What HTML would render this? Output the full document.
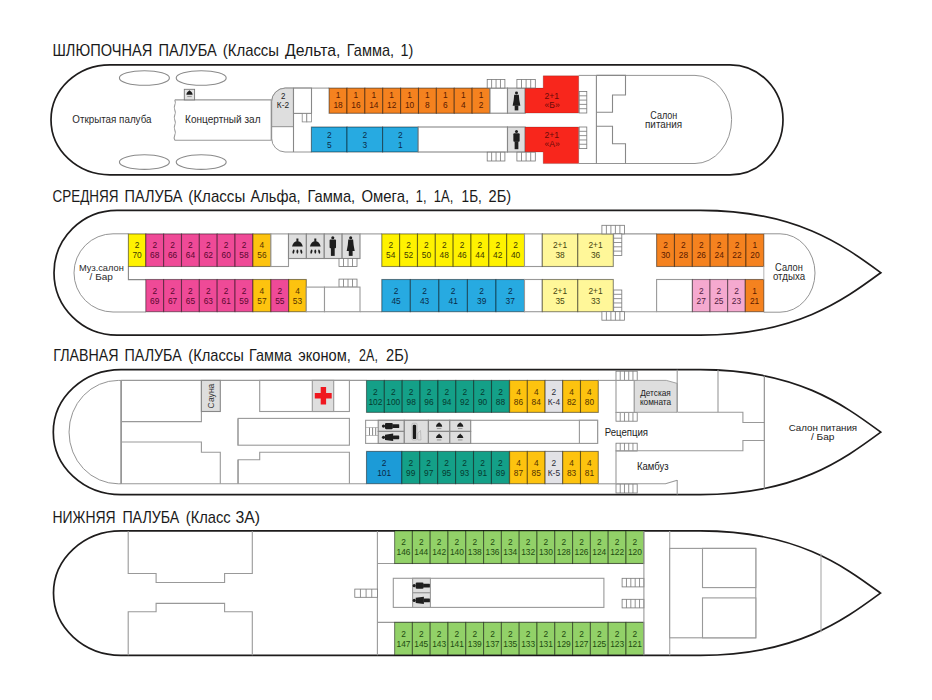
<!DOCTYPE html><html><head><meta charset="utf-8"><style>html,body{margin:0;padding:0;background:#fff;}svg{display:block;}text{font-family:"Liberation Sans", sans-serif;}</style></head><body>
<svg width="932" height="700" viewBox="0 0 932 700">
<rect width="932" height="700" fill="#fff"/>
<text transform="translate(52.50,56.20) scale(0.913,1)" font-size="16" fill="#1a1a1a" >ШЛЮПОЧНАЯ</text>
<text transform="translate(158.40,56.20) scale(0.912,1)" font-size="16" fill="#1a1a1a" >ПАЛУБА</text>
<text transform="translate(222.80,56.20) scale(0.932,1)" font-size="16" fill="#1a1a1a" >(Классы</text>
<text transform="translate(285.10,56.20) scale(0.986,1)" font-size="16" fill="#1a1a1a" >Дельта,</text>
<text transform="translate(346.80,56.20) scale(0.910,1)" font-size="16" fill="#1a1a1a" >Гамма,</text>
<text transform="translate(400.60,56.20) scale(0.900,1)" font-size="16" fill="#1a1a1a" >1)</text>
<text transform="translate(52.50,201.70) scale(0.843,1)" font-size="16" fill="#1a1a1a" >СРЕДНЯЯ</text>
<text transform="translate(124.60,201.70) scale(0.904,1)" font-size="16" fill="#1a1a1a" >ПАЛУБА</text>
<text transform="translate(188.30,201.70) scale(0.944,1)" font-size="16" fill="#1a1a1a" >(Классы</text>
<text transform="translate(250.60,201.70) scale(0.912,1)" font-size="16" fill="#1a1a1a" >Альфа,</text>
<text transform="translate(307.50,201.70) scale(0.917,1)" font-size="16" fill="#1a1a1a" >Гамма,</text>
<text transform="translate(361.40,201.70) scale(0.932,1)" font-size="16" fill="#1a1a1a" >Омега,</text>
<text transform="translate(415.80,201.70) scale(0.802,1)" font-size="16" fill="#1a1a1a" >1,</text>
<text transform="translate(433.80,201.70) scale(0.812,1)" font-size="16" fill="#1a1a1a" >1А,</text>
<text transform="translate(461.60,201.70) scale(0.852,1)" font-size="16" fill="#1a1a1a" >1Б,</text>
<text transform="translate(488.60,201.70) scale(0.914,1)" font-size="16" fill="#1a1a1a" >2Б)</text>
<text transform="translate(53.30,361.00) scale(0.890,1)" font-size="16" fill="#1a1a1a" >ГЛАВНАЯ</text>
<text transform="translate(124.60,361.00) scale(0.892,1)" font-size="16" fill="#1a1a1a" >ПАЛУБА</text>
<text transform="translate(188.30,361.00) scale(0.919,1)" font-size="16" fill="#1a1a1a" >(Классы</text>
<text transform="translate(249.10,361.00) scale(0.899,1)" font-size="16" fill="#1a1a1a" >Гамма</text>
<text transform="translate(298.30,361.00) scale(0.914,1)" font-size="16" fill="#1a1a1a" >эконом,</text>
<text transform="translate(359.10,361.00) scale(0.783,1)" font-size="16" fill="#1a1a1a" >2А,</text>
<text transform="translate(386.10,361.00) scale(0.914,1)" font-size="16" fill="#1a1a1a" >2Б)</text>
<text transform="translate(52.50,522.60) scale(0.870,1)" font-size="16" fill="#1a1a1a" >НИЖНЯЯ</text>
<text transform="translate(122.40,522.60) scale(0.890,1)" font-size="16" fill="#1a1a1a" >ПАЛУБА</text>
<text transform="translate(185.80,522.60) scale(0.919,1)" font-size="16" fill="#1a1a1a" >(Класс</text>
<text transform="translate(235.50,522.60) scale(0.988,1)" font-size="16" fill="#1a1a1a" >3А)</text>
<path d="M110,64.8 L730,64.8 A53,55.00000000000001 0 0 1 730,174.8 L110,174.8 A59,55.00000000000001 0 0 1 110,64.8 Z" fill="#fff" stroke="#1e1c1c" stroke-width="1.7"/>
<ellipse cx="144.4" cy="78" rx="25" ry="7.3" fill="none" stroke="#8a8a8a" stroke-width="1.1"/>
<ellipse cx="144.4" cy="162.1" rx="25" ry="7.3" fill="none" stroke="#8a8a8a" stroke-width="1.1"/>
<ellipse cx="201.2" cy="78" rx="25" ry="7.3" fill="none" stroke="#8a8a8a" stroke-width="1.1"/>
<ellipse cx="201.2" cy="162.1" rx="25" ry="7.3" fill="none" stroke="#8a8a8a" stroke-width="1.1"/>
<polyline points="174.80,99.90 271.20,99.90 271.20,140.30 174.80,140.30" fill="none" stroke="#999" stroke-width="1.1"/>
<path d="M174.8,99.9 q1.2,2.5 0,5 t0,5 t0,5 t0,5 t0,5 t0,5 t0,5 t0,5.4" fill="none" stroke="#999" stroke-width="1.1"/>
<rect x="184.30" y="89.30" width="10.30" height="10.60" fill="#e4e4e4" stroke="#777" stroke-width="0.9"/>
<g transform="translate(189.50,90.20) scale(1.25)" fill="#1e1e1e"><path d="M-2.5,3.6 C-2.4,2 -1.3,1.3 -0.6,0.7 L0,0 L0.6,0.7 C1.3,1.3 2.4,2 2.5,3.6 Z"/><rect x="-1.8" y="4.6" width="3.6" height="0.9" fill="#999"/></g>
<text transform="translate(72.30,122.70) scale(0.936,1)" font-size="10.5" fill="#2a2a2a" >Открытая палуба</text>
<text transform="translate(185.10,123.20) scale(0.959,1)" font-size="10.5" fill="#2a2a2a" >Концертный зал</text>
<path d="M285,88.1 L329.2,88.1 M311.5,152 L285,152 A13.5,13.5 0 0 1 271.7,138.5 L271.7,101.6 A13.5,13.5 0 0 1 285,88.1" fill="none" stroke="#888" stroke-width="0.9"/>
<path d="M285.2,88.1 L293.5,88.1 L293.5,126.7 L271.7,126.7 L271.7,101.6 A13.5,13.5 0 0 1 285.2,88.1 Z" fill="#DEDEDE" stroke="#888" stroke-width="0.9"/>
<line x1="293.50" y1="88.10" x2="293.50" y2="152.00" stroke="#888" stroke-width="1.1"/>
<rect x="293.50" y="88.10" width="18.00" height="25.30" fill="#fff" stroke="#888" stroke-width="1.1"/>
<rect x="302.20" y="113.50" width="4.60" height="8.40" fill="#fff" stroke="#888" stroke-width="0.8"/>
<rect x="306.80" y="113.50" width="4.60" height="8.40" fill="#fff" stroke="#888" stroke-width="0.8"/>
<text transform="translate(281.00,98.60) scale(0.860,1)" font-size="9.2" fill="#222" >2</text>
<text transform="translate(276.80,108.40) scale(0.901,1)" font-size="9.2" fill="#222" >К-2</text>
<rect x="329.10" y="88.10" width="17.88" height="25.20" fill="#F5821F" stroke="rgba(0,0,0,0.45)" stroke-width="1.1"/>
<text transform="translate(338.04,97.90) scale(0.88,1)" font-size="9.5" fill="#5a1a00" text-anchor="middle" >1</text>
<text transform="translate(338.04,107.90) scale(0.88,1)" font-size="9.5" fill="#5a1a00" text-anchor="middle" >18</text>
<rect x="346.98" y="88.10" width="17.88" height="25.20" fill="#F5821F" stroke="rgba(0,0,0,0.45)" stroke-width="1.1"/>
<text transform="translate(355.92,97.90) scale(0.88,1)" font-size="9.5" fill="#5a1a00" text-anchor="middle" >1</text>
<text transform="translate(355.92,107.90) scale(0.88,1)" font-size="9.5" fill="#5a1a00" text-anchor="middle" >16</text>
<rect x="364.86" y="88.10" width="17.88" height="25.20" fill="#F5821F" stroke="rgba(0,0,0,0.45)" stroke-width="1.1"/>
<text transform="translate(373.80,97.90) scale(0.88,1)" font-size="9.5" fill="#5a1a00" text-anchor="middle" >1</text>
<text transform="translate(373.80,107.90) scale(0.88,1)" font-size="9.5" fill="#5a1a00" text-anchor="middle" >14</text>
<rect x="382.74" y="88.10" width="17.88" height="25.20" fill="#F5821F" stroke="rgba(0,0,0,0.45)" stroke-width="1.1"/>
<text transform="translate(391.68,97.90) scale(0.88,1)" font-size="9.5" fill="#5a1a00" text-anchor="middle" >1</text>
<text transform="translate(391.68,107.90) scale(0.88,1)" font-size="9.5" fill="#5a1a00" text-anchor="middle" >12</text>
<rect x="400.62" y="88.10" width="17.88" height="25.20" fill="#F5821F" stroke="rgba(0,0,0,0.45)" stroke-width="1.1"/>
<text transform="translate(409.56,97.90) scale(0.88,1)" font-size="9.5" fill="#5a1a00" text-anchor="middle" >1</text>
<text transform="translate(409.56,107.90) scale(0.88,1)" font-size="9.5" fill="#5a1a00" text-anchor="middle" >10</text>
<rect x="418.50" y="88.10" width="17.88" height="25.20" fill="#F5821F" stroke="rgba(0,0,0,0.45)" stroke-width="1.1"/>
<text transform="translate(427.44,97.90) scale(0.88,1)" font-size="9.5" fill="#5a1a00" text-anchor="middle" >1</text>
<text transform="translate(427.44,107.90) scale(0.88,1)" font-size="9.5" fill="#5a1a00" text-anchor="middle" >8</text>
<rect x="436.38" y="88.10" width="17.88" height="25.20" fill="#F5821F" stroke="rgba(0,0,0,0.45)" stroke-width="1.1"/>
<text transform="translate(445.32,97.90) scale(0.88,1)" font-size="9.5" fill="#5a1a00" text-anchor="middle" >1</text>
<text transform="translate(445.32,107.90) scale(0.88,1)" font-size="9.5" fill="#5a1a00" text-anchor="middle" >6</text>
<rect x="454.26" y="88.10" width="17.88" height="25.20" fill="#F5821F" stroke="rgba(0,0,0,0.45)" stroke-width="1.1"/>
<text transform="translate(463.20,97.90) scale(0.88,1)" font-size="9.5" fill="#5a1a00" text-anchor="middle" >1</text>
<text transform="translate(463.20,107.90) scale(0.88,1)" font-size="9.5" fill="#5a1a00" text-anchor="middle" >4</text>
<rect x="472.14" y="88.10" width="17.88" height="25.20" fill="#F5821F" stroke="rgba(0,0,0,0.45)" stroke-width="1.1"/>
<text transform="translate(481.08,97.90) scale(0.88,1)" font-size="9.5" fill="#5a1a00" text-anchor="middle" >1</text>
<text transform="translate(481.08,107.90) scale(0.88,1)" font-size="9.5" fill="#5a1a00" text-anchor="middle" >2</text>
<rect x="311.40" y="127.00" width="35.60" height="25.00" fill="#27AAE1" stroke="rgba(0,0,0,0.45)" stroke-width="1.1"/>
<text transform="translate(329.20,137.60) scale(0.88,1)" font-size="9.5" fill="#0a2a48" text-anchor="middle" >2</text>
<text transform="translate(329.20,147.70) scale(0.88,1)" font-size="9.5" fill="#0a2a48" text-anchor="middle" >5</text>
<rect x="347.00" y="127.00" width="35.60" height="25.00" fill="#27AAE1" stroke="rgba(0,0,0,0.45)" stroke-width="1.1"/>
<text transform="translate(364.80,137.60) scale(0.88,1)" font-size="9.5" fill="#0a2a48" text-anchor="middle" >2</text>
<text transform="translate(364.80,147.70) scale(0.88,1)" font-size="9.5" fill="#0a2a48" text-anchor="middle" >3</text>
<rect x="382.60" y="127.00" width="35.60" height="25.00" fill="#27AAE1" stroke="rgba(0,0,0,0.45)" stroke-width="1.1"/>
<text transform="translate(400.40,137.60) scale(0.88,1)" font-size="9.5" fill="#0a2a48" text-anchor="middle" >2</text>
<text transform="translate(400.40,147.70) scale(0.88,1)" font-size="9.5" fill="#0a2a48" text-anchor="middle" >1</text>
<rect x="490.00" y="88.10" width="17.50" height="25.10" fill="#fff" stroke="#888" stroke-width="1.1"/>
<rect x="507.50" y="88.10" width="17.60" height="25.10" fill="#DEDEDE" stroke="#888" stroke-width="1.1"/>
<g transform="translate(516.50,91.60) scale(0.964)" fill="#1e1e1e"><circle cx="0" cy="1.5" r="1.55"/><path d="M-2.4,3.3 H2.4 L2.9,8.6 L4,14.6 H-4 L-2.9,8.6 Z"/><rect x="-1.9" y="14.4" width="3.8" height="5.1"/></g>
<rect x="418.20" y="127.00" width="89.30" height="25.00" fill="#fff" stroke="#888" stroke-width="1.1"/>
<rect x="507.50" y="127.00" width="17.60" height="25.00" fill="#DEDEDE" stroke="#888" stroke-width="1.1"/>
<g transform="translate(516.50,130.00) scale(0.985)" fill="#1e1e1e"><circle cx="0" cy="1.5" r="1.55"/><rect x="-3.2" y="3.3" width="6.4" height="8.6" rx="0.9"/><rect x="-1.9" y="11.5" width="3.8" height="8"/></g>
<path d="M525.1,88.1 L543.2,88.1 L543.2,75.8 L578.7,75.8 L578.7,113.1 L525.1,113.1 Z" fill="#F8261C" stroke="rgba(0,0,0,0.3)" stroke-width="0.6"/>
<path d="M525.1,127 L578.7,127 L578.7,163.6 L543.2,163.6 L543.2,152 L525.1,152 Z" fill="#F8261C" stroke="rgba(0,0,0,0.3)" stroke-width="0.6"/>
<text transform="translate(544.50,98.70) scale(0.912,1)" font-size="9.5" fill="#6a0a08" >2+1</text>
<text transform="translate(544.50,108.20) scale(0.910,1)" font-size="9.5" fill="#6a0a08" >«Б»</text>
<text transform="translate(544.50,137.70) scale(0.912,1)" font-size="9.5" fill="#6a0a08" >2+1</text>
<text transform="translate(544.50,147.40) scale(0.905,1)" font-size="9.5" fill="#6a0a08" >«А»</text>
<rect x="487.20" y="79.40" width="17.70" height="8.60" fill="#fff" stroke="#777" stroke-width="0.8"/>
<line x1="491.62" y1="79.40" x2="491.62" y2="88.00" stroke="#777" stroke-width="0.8"/>
<line x1="496.05" y1="79.40" x2="496.05" y2="88.00" stroke="#777" stroke-width="0.8"/>
<line x1="500.47" y1="79.40" x2="500.47" y2="88.00" stroke="#777" stroke-width="0.8"/>
<rect x="516.90" y="79.40" width="18.40" height="8.60" fill="#fff" stroke="#777" stroke-width="0.8"/>
<line x1="521.50" y1="79.40" x2="521.50" y2="88.00" stroke="#777" stroke-width="0.8"/>
<line x1="526.10" y1="79.40" x2="526.10" y2="88.00" stroke="#777" stroke-width="0.8"/>
<line x1="530.70" y1="79.40" x2="530.70" y2="88.00" stroke="#777" stroke-width="0.8"/>
<rect x="487.20" y="152.20" width="17.70" height="8.80" fill="#fff" stroke="#777" stroke-width="0.8"/>
<line x1="491.62" y1="152.20" x2="491.62" y2="161.00" stroke="#777" stroke-width="0.8"/>
<line x1="496.05" y1="152.20" x2="496.05" y2="161.00" stroke="#777" stroke-width="0.8"/>
<line x1="500.47" y1="152.20" x2="500.47" y2="161.00" stroke="#777" stroke-width="0.8"/>
<rect x="516.90" y="152.20" width="18.40" height="8.80" fill="#fff" stroke="#777" stroke-width="0.8"/>
<line x1="521.50" y1="152.20" x2="521.50" y2="161.00" stroke="#777" stroke-width="0.8"/>
<line x1="526.10" y1="152.20" x2="526.10" y2="161.00" stroke="#777" stroke-width="0.8"/>
<line x1="530.70" y1="152.20" x2="530.70" y2="161.00" stroke="#777" stroke-width="0.8"/>
<rect x="579.20" y="91.50" width="7.60" height="21.50" fill="#fff" stroke="#777" stroke-width="0.8"/>
<line x1="579.20" y1="95.80" x2="586.80" y2="95.80" stroke="#777" stroke-width="0.8"/>
<line x1="579.20" y1="100.10" x2="586.80" y2="100.10" stroke="#777" stroke-width="0.8"/>
<line x1="579.20" y1="104.40" x2="586.80" y2="104.40" stroke="#777" stroke-width="0.8"/>
<line x1="579.20" y1="108.70" x2="586.80" y2="108.70" stroke="#777" stroke-width="0.8"/>
<rect x="579.20" y="127.00" width="7.60" height="21.60" fill="#fff" stroke="#777" stroke-width="0.8"/>
<line x1="579.20" y1="131.32" x2="586.80" y2="131.32" stroke="#777" stroke-width="0.8"/>
<line x1="579.20" y1="135.64" x2="586.80" y2="135.64" stroke="#777" stroke-width="0.8"/>
<line x1="579.20" y1="139.96" x2="586.80" y2="139.96" stroke="#777" stroke-width="0.8"/>
<line x1="579.20" y1="144.28" x2="586.80" y2="144.28" stroke="#777" stroke-width="0.8"/>
<path d="M578.7,75.4 L695,75.4 A36.6,44 0 0 1 695,163.5 L578.7,163.5" fill="none" stroke="#888" stroke-width="0.9"/>
<line x1="596.40" y1="75.40" x2="596.40" y2="163.50" stroke="#888" stroke-width="1.1"/>
<polyline points="596.40,75.40 625.50,75.40 625.50,95.00 612.50,95.00 612.50,112.30 596.40,112.30" fill="none" stroke="#888" stroke-width="1.1"/>
<polyline points="596.40,126.30 612.50,126.30 612.50,143.80 625.50,143.80 625.50,163.50" fill="none" stroke="#888" stroke-width="1.1"/>
<text transform="translate(650.30,118.90) scale(0.902,1)" font-size="10" fill="#2a2a2a" >Салон</text>
<text transform="translate(645.00,127.90) scale(0.991,1)" font-size="10" fill="#2a2a2a" >питания</text>
<path d="M117,210.3 L700.4,210.3 C796.6,210.3 843.8,245.60000000000002 880.8,272.70000000000005 C843.8,299.8 796.6,335.1 700.4,335.1 L117,335.1 A63,62.400000000000006 0 0 1 117,210.3 Z" fill="#fff" stroke="#1e1c1c" stroke-width="1.7"/>
<path d="M128.4,233.8 L113,233.8 A39,39.1 0 0 0 113,312 L145.8,312" fill="none" stroke="#888" stroke-width="0.9"/>
<polyline points="128.40,266.60 128.40,279.60 145.80,279.60" fill="none" stroke="#888" stroke-width="1.1"/>
<text transform="translate(79.00,270.60) scale(0.945,1)" font-size="9.8" fill="#2a2a2a" >Муз.салон</text>
<text transform="translate(89.60,279.90) scale(1.019,1)" font-size="9.8" fill="#2a2a2a" >/ Бар</text>
<rect x="128.40" y="233.90" width="17.40" height="32.60" fill="#FFF200" stroke="rgba(0,0,0,0.45)" stroke-width="1.1"/>
<text transform="translate(137.10,248.30) scale(0.88,1)" font-size="9.5" fill="#403a00" text-anchor="middle" >2</text>
<text transform="translate(137.10,258.00) scale(0.88,1)" font-size="9.5" fill="#403a00" text-anchor="middle" >70</text>
<rect x="145.80" y="233.90" width="17.85" height="32.60" fill="#EF4A97" stroke="rgba(0,0,0,0.45)" stroke-width="1.1"/>
<text transform="translate(154.73,248.30) scale(0.88,1)" font-size="9.5" fill="#5a0830" text-anchor="middle" >2</text>
<text transform="translate(154.73,258.00) scale(0.88,1)" font-size="9.5" fill="#5a0830" text-anchor="middle" >68</text>
<rect x="163.65" y="233.90" width="17.85" height="32.60" fill="#EF4A97" stroke="rgba(0,0,0,0.45)" stroke-width="1.1"/>
<text transform="translate(172.58,248.30) scale(0.88,1)" font-size="9.5" fill="#5a0830" text-anchor="middle" >2</text>
<text transform="translate(172.58,258.00) scale(0.88,1)" font-size="9.5" fill="#5a0830" text-anchor="middle" >66</text>
<rect x="181.50" y="233.90" width="17.85" height="32.60" fill="#EF4A97" stroke="rgba(0,0,0,0.45)" stroke-width="1.1"/>
<text transform="translate(190.43,248.30) scale(0.88,1)" font-size="9.5" fill="#5a0830" text-anchor="middle" >2</text>
<text transform="translate(190.43,258.00) scale(0.88,1)" font-size="9.5" fill="#5a0830" text-anchor="middle" >64</text>
<rect x="199.35" y="233.90" width="17.85" height="32.60" fill="#EF4A97" stroke="rgba(0,0,0,0.45)" stroke-width="1.1"/>
<text transform="translate(208.28,248.30) scale(0.88,1)" font-size="9.5" fill="#5a0830" text-anchor="middle" >2</text>
<text transform="translate(208.28,258.00) scale(0.88,1)" font-size="9.5" fill="#5a0830" text-anchor="middle" >62</text>
<rect x="217.20" y="233.90" width="17.85" height="32.60" fill="#EF4A97" stroke="rgba(0,0,0,0.45)" stroke-width="1.1"/>
<text transform="translate(226.13,248.30) scale(0.88,1)" font-size="9.5" fill="#5a0830" text-anchor="middle" >2</text>
<text transform="translate(226.13,258.00) scale(0.88,1)" font-size="9.5" fill="#5a0830" text-anchor="middle" >60</text>
<rect x="235.05" y="233.90" width="17.85" height="32.60" fill="#EF4A97" stroke="rgba(0,0,0,0.45)" stroke-width="1.1"/>
<text transform="translate(243.98,248.30) scale(0.88,1)" font-size="9.5" fill="#5a0830" text-anchor="middle" >2</text>
<text transform="translate(243.98,258.00) scale(0.88,1)" font-size="9.5" fill="#5a0830" text-anchor="middle" >58</text>
<rect x="252.90" y="233.90" width="18.00" height="32.60" fill="#FDC30F" stroke="rgba(0,0,0,0.45)" stroke-width="1.1"/>
<text transform="translate(261.90,248.30) scale(0.88,1)" font-size="9.5" fill="#553300" text-anchor="middle" >4</text>
<text transform="translate(261.90,258.00) scale(0.88,1)" font-size="9.5" fill="#553300" text-anchor="middle" >56</text>
<rect x="270.90" y="233.90" width="17.60" height="32.60" fill="#fff" stroke="#999" stroke-width="1.1"/>
<rect x="288.50" y="233.90" width="17.88" height="24.60" fill="#DEDEDE" stroke="#888" stroke-width="1.1"/>
<rect x="306.38" y="233.90" width="17.88" height="24.60" fill="#DEDEDE" stroke="#888" stroke-width="1.1"/>
<rect x="324.25" y="233.90" width="17.88" height="24.60" fill="#DEDEDE" stroke="#888" stroke-width="1.1"/>
<rect x="342.12" y="233.90" width="17.88" height="24.60" fill="#DEDEDE" stroke="#888" stroke-width="1.1"/>
<g transform="translate(297.40,238.50)" fill="#1e1e1e"><rect x="-1" y="0" width="2" height="3"/><path d="M-5.4,8.1 C-4.6,4.6 -2.6,2.4 0,2.4 C2.6,2.4 4.6,4.6 5.4,8.1 Z"/><ellipse cx="-3.9" cy="13.1" rx="0.95" ry="2.1" transform="rotate(12 -3.9 13.1)"/><ellipse cx="0" cy="13.1" rx="0.95" ry="2.1"/><ellipse cx="3.9" cy="13.1" rx="0.95" ry="2.1" transform="rotate(-12 3.9 13.1)"/></g>
<g transform="translate(315.30,238.50)" fill="#1e1e1e"><rect x="-1" y="0" width="2" height="3"/><path d="M-5.4,8.1 C-4.6,4.6 -2.6,2.4 0,2.4 C2.6,2.4 4.6,4.6 5.4,8.1 Z"/><ellipse cx="-3.9" cy="13.1" rx="0.95" ry="2.1" transform="rotate(12 -3.9 13.1)"/><ellipse cx="0" cy="13.1" rx="0.95" ry="2.1"/><ellipse cx="3.9" cy="13.1" rx="0.95" ry="2.1" transform="rotate(-12 3.9 13.1)"/></g>
<g transform="translate(332.80,236.30) scale(1.005)" fill="#1e1e1e"><circle cx="0" cy="1.5" r="1.55"/><rect x="-3.2" y="3.3" width="6.4" height="8.6" rx="0.9"/><rect x="-1.9" y="11.5" width="3.8" height="8"/></g>
<g transform="translate(350.70,236.30) scale(1.005)" fill="#1e1e1e"><circle cx="0" cy="1.5" r="1.55"/><path d="M-2.4,3.3 H2.4 L2.9,8.6 L4,14.6 H-4 L-2.9,8.6 Z"/><rect x="-1.9" y="14.4" width="3.8" height="5.1"/></g>
<rect x="339.00" y="258.50" width="18.00" height="8.00" fill="#fff" stroke="#777" stroke-width="0.8"/>
<line x1="343.50" y1="258.50" x2="343.50" y2="266.50" stroke="#777" stroke-width="0.8"/>
<line x1="348.00" y1="258.50" x2="348.00" y2="266.50" stroke="#777" stroke-width="0.8"/>
<line x1="352.50" y1="258.50" x2="352.50" y2="266.50" stroke="#777" stroke-width="0.8"/>
<rect x="339.00" y="279.10" width="18.00" height="8.00" fill="#fff" stroke="#777" stroke-width="0.8"/>
<line x1="343.50" y1="279.10" x2="343.50" y2="287.10" stroke="#777" stroke-width="0.8"/>
<line x1="348.00" y1="279.10" x2="348.00" y2="287.10" stroke="#777" stroke-width="0.8"/>
<line x1="352.50" y1="279.10" x2="352.50" y2="287.10" stroke="#777" stroke-width="0.8"/>
<line x1="360.00" y1="233.90" x2="381.80" y2="233.90" stroke="#999" stroke-width="1.1"/>
<rect x="145.80" y="279.50" width="17.85" height="32.20" fill="#EF4A97" stroke="rgba(0,0,0,0.45)" stroke-width="1.1"/>
<text transform="translate(154.73,293.90) scale(0.88,1)" font-size="9.5" fill="#5a0830" text-anchor="middle" >2</text>
<text transform="translate(154.73,303.60) scale(0.88,1)" font-size="9.5" fill="#5a0830" text-anchor="middle" >69</text>
<rect x="163.65" y="279.50" width="17.85" height="32.20" fill="#EF4A97" stroke="rgba(0,0,0,0.45)" stroke-width="1.1"/>
<text transform="translate(172.58,293.90) scale(0.88,1)" font-size="9.5" fill="#5a0830" text-anchor="middle" >2</text>
<text transform="translate(172.58,303.60) scale(0.88,1)" font-size="9.5" fill="#5a0830" text-anchor="middle" >67</text>
<rect x="181.50" y="279.50" width="17.85" height="32.20" fill="#EF4A97" stroke="rgba(0,0,0,0.45)" stroke-width="1.1"/>
<text transform="translate(190.43,293.90) scale(0.88,1)" font-size="9.5" fill="#5a0830" text-anchor="middle" >2</text>
<text transform="translate(190.43,303.60) scale(0.88,1)" font-size="9.5" fill="#5a0830" text-anchor="middle" >65</text>
<rect x="199.35" y="279.50" width="17.85" height="32.20" fill="#EF4A97" stroke="rgba(0,0,0,0.45)" stroke-width="1.1"/>
<text transform="translate(208.28,293.90) scale(0.88,1)" font-size="9.5" fill="#5a0830" text-anchor="middle" >2</text>
<text transform="translate(208.28,303.60) scale(0.88,1)" font-size="9.5" fill="#5a0830" text-anchor="middle" >63</text>
<rect x="217.20" y="279.50" width="17.85" height="32.20" fill="#EF4A97" stroke="rgba(0,0,0,0.45)" stroke-width="1.1"/>
<text transform="translate(226.13,293.90) scale(0.88,1)" font-size="9.5" fill="#5a0830" text-anchor="middle" >2</text>
<text transform="translate(226.13,303.60) scale(0.88,1)" font-size="9.5" fill="#5a0830" text-anchor="middle" >61</text>
<rect x="235.05" y="279.50" width="17.85" height="32.20" fill="#EF4A97" stroke="rgba(0,0,0,0.45)" stroke-width="1.1"/>
<text transform="translate(243.98,293.90) scale(0.88,1)" font-size="9.5" fill="#5a0830" text-anchor="middle" >2</text>
<text transform="translate(243.98,303.60) scale(0.88,1)" font-size="9.5" fill="#5a0830" text-anchor="middle" >59</text>
<rect x="252.90" y="279.50" width="18.00" height="32.20" fill="#FDC30F" stroke="rgba(0,0,0,0.45)" stroke-width="1.1"/>
<text transform="translate(261.90,293.90) scale(0.88,1)" font-size="9.5" fill="#553300" text-anchor="middle" >4</text>
<text transform="translate(261.90,303.60) scale(0.88,1)" font-size="9.5" fill="#553300" text-anchor="middle" >57</text>
<rect x="270.90" y="279.50" width="17.80" height="32.20" fill="#EF4A97" stroke="rgba(0,0,0,0.45)" stroke-width="1.1"/>
<text transform="translate(279.80,293.90) scale(0.88,1)" font-size="9.5" fill="#5a0830" text-anchor="middle" >2</text>
<text transform="translate(279.80,303.60) scale(0.88,1)" font-size="9.5" fill="#5a0830" text-anchor="middle" >55</text>
<rect x="288.70" y="279.50" width="17.60" height="32.20" fill="#FDC30F" stroke="rgba(0,0,0,0.45)" stroke-width="1.1"/>
<text transform="translate(297.50,293.90) scale(0.88,1)" font-size="9.5" fill="#553300" text-anchor="middle" >4</text>
<text transform="translate(297.50,303.60) scale(0.88,1)" font-size="9.5" fill="#553300" text-anchor="middle" >53</text>
<rect x="306.30" y="287.10" width="18.20" height="24.60" fill="#fff" stroke="#999" stroke-width="1.1"/>
<rect x="324.50" y="287.10" width="35.50" height="24.60" fill="#fff" stroke="#999" stroke-width="1.1"/>
<line x1="360.00" y1="311.70" x2="381.80" y2="311.70" stroke="#999" stroke-width="1.1"/>
<rect x="381.80" y="233.90" width="17.84" height="32.60" fill="#FFF200" stroke="rgba(0,0,0,0.45)" stroke-width="1.1"/>
<text transform="translate(390.72,248.30) scale(0.88,1)" font-size="9.5" fill="#403a00" text-anchor="middle" >2</text>
<text transform="translate(390.72,258.00) scale(0.88,1)" font-size="9.5" fill="#403a00" text-anchor="middle" >54</text>
<rect x="399.64" y="233.90" width="17.84" height="32.60" fill="#FFF200" stroke="rgba(0,0,0,0.45)" stroke-width="1.1"/>
<text transform="translate(408.56,248.30) scale(0.88,1)" font-size="9.5" fill="#403a00" text-anchor="middle" >2</text>
<text transform="translate(408.56,258.00) scale(0.88,1)" font-size="9.5" fill="#403a00" text-anchor="middle" >52</text>
<rect x="417.48" y="233.90" width="17.84" height="32.60" fill="#FFF200" stroke="rgba(0,0,0,0.45)" stroke-width="1.1"/>
<text transform="translate(426.40,248.30) scale(0.88,1)" font-size="9.5" fill="#403a00" text-anchor="middle" >2</text>
<text transform="translate(426.40,258.00) scale(0.88,1)" font-size="9.5" fill="#403a00" text-anchor="middle" >50</text>
<rect x="435.32" y="233.90" width="17.84" height="32.60" fill="#FFF200" stroke="rgba(0,0,0,0.45)" stroke-width="1.1"/>
<text transform="translate(444.24,248.30) scale(0.88,1)" font-size="9.5" fill="#403a00" text-anchor="middle" >2</text>
<text transform="translate(444.24,258.00) scale(0.88,1)" font-size="9.5" fill="#403a00" text-anchor="middle" >48</text>
<rect x="453.16" y="233.90" width="17.84" height="32.60" fill="#FFF200" stroke="rgba(0,0,0,0.45)" stroke-width="1.1"/>
<text transform="translate(462.08,248.30) scale(0.88,1)" font-size="9.5" fill="#403a00" text-anchor="middle" >2</text>
<text transform="translate(462.08,258.00) scale(0.88,1)" font-size="9.5" fill="#403a00" text-anchor="middle" >46</text>
<rect x="471.00" y="233.90" width="17.84" height="32.60" fill="#FFF200" stroke="rgba(0,0,0,0.45)" stroke-width="1.1"/>
<text transform="translate(479.92,248.30) scale(0.88,1)" font-size="9.5" fill="#403a00" text-anchor="middle" >2</text>
<text transform="translate(479.92,258.00) scale(0.88,1)" font-size="9.5" fill="#403a00" text-anchor="middle" >44</text>
<rect x="488.84" y="233.90" width="17.84" height="32.60" fill="#FFF200" stroke="rgba(0,0,0,0.45)" stroke-width="1.1"/>
<text transform="translate(497.76,248.30) scale(0.88,1)" font-size="9.5" fill="#403a00" text-anchor="middle" >2</text>
<text transform="translate(497.76,258.00) scale(0.88,1)" font-size="9.5" fill="#403a00" text-anchor="middle" >42</text>
<rect x="506.68" y="233.90" width="17.84" height="32.60" fill="#FFF200" stroke="rgba(0,0,0,0.45)" stroke-width="1.1"/>
<text transform="translate(515.60,248.30) scale(0.88,1)" font-size="9.5" fill="#403a00" text-anchor="middle" >2</text>
<text transform="translate(515.60,258.00) scale(0.88,1)" font-size="9.5" fill="#403a00" text-anchor="middle" >40</text>
<rect x="381.80" y="279.50" width="28.54" height="32.20" fill="#27AAE1" stroke="rgba(0,0,0,0.45)" stroke-width="1.1"/>
<text transform="translate(396.07,293.90) scale(0.88,1)" font-size="9.5" fill="#0a2a48" text-anchor="middle" >2</text>
<text transform="translate(396.07,303.60) scale(0.88,1)" font-size="9.5" fill="#0a2a48" text-anchor="middle" >45</text>
<rect x="410.34" y="279.50" width="28.54" height="32.20" fill="#27AAE1" stroke="rgba(0,0,0,0.45)" stroke-width="1.1"/>
<text transform="translate(424.61,293.90) scale(0.88,1)" font-size="9.5" fill="#0a2a48" text-anchor="middle" >2</text>
<text transform="translate(424.61,303.60) scale(0.88,1)" font-size="9.5" fill="#0a2a48" text-anchor="middle" >43</text>
<rect x="438.88" y="279.50" width="28.54" height="32.20" fill="#27AAE1" stroke="rgba(0,0,0,0.45)" stroke-width="1.1"/>
<text transform="translate(453.15,293.90) scale(0.88,1)" font-size="9.5" fill="#0a2a48" text-anchor="middle" >2</text>
<text transform="translate(453.15,303.60) scale(0.88,1)" font-size="9.5" fill="#0a2a48" text-anchor="middle" >41</text>
<rect x="467.42" y="279.50" width="28.54" height="32.20" fill="#27AAE1" stroke="rgba(0,0,0,0.45)" stroke-width="1.1"/>
<text transform="translate(481.69,293.90) scale(0.88,1)" font-size="9.5" fill="#0a2a48" text-anchor="middle" >2</text>
<text transform="translate(481.69,303.60) scale(0.88,1)" font-size="9.5" fill="#0a2a48" text-anchor="middle" >39</text>
<rect x="495.96" y="279.50" width="28.54" height="32.20" fill="#27AAE1" stroke="rgba(0,0,0,0.45)" stroke-width="1.1"/>
<text transform="translate(510.23,293.90) scale(0.88,1)" font-size="9.5" fill="#0a2a48" text-anchor="middle" >2</text>
<text transform="translate(510.23,303.60) scale(0.88,1)" font-size="9.5" fill="#0a2a48" text-anchor="middle" >37</text>
<rect x="524.50" y="233.90" width="17.80" height="32.60" fill="#fff" stroke="#999" stroke-width="1.1"/>
<rect x="524.50" y="279.50" width="17.80" height="32.20" fill="#fff" stroke="#999" stroke-width="1.1"/>
<rect x="542.30" y="233.90" width="35.50" height="32.60" fill="#FFF799" stroke="rgba(0,0,0,0.45)" stroke-width="1.1"/>
<text transform="translate(560.05,248.30) scale(0.88,1)" font-size="9.5" fill="#454510" text-anchor="middle" >2+1</text>
<text transform="translate(560.05,258.00) scale(0.88,1)" font-size="9.5" fill="#454510" text-anchor="middle" >38</text>
<rect x="577.80" y="233.90" width="35.50" height="32.60" fill="#FFF799" stroke="rgba(0,0,0,0.45)" stroke-width="1.1"/>
<text transform="translate(595.55,248.30) scale(0.88,1)" font-size="9.5" fill="#454510" text-anchor="middle" >2+1</text>
<text transform="translate(595.55,258.00) scale(0.88,1)" font-size="9.5" fill="#454510" text-anchor="middle" >36</text>
<rect x="542.30" y="279.50" width="35.50" height="32.20" fill="#FFF799" stroke="rgba(0,0,0,0.45)" stroke-width="1.1"/>
<text transform="translate(560.05,293.90) scale(0.88,1)" font-size="9.5" fill="#454510" text-anchor="middle" >2+1</text>
<text transform="translate(560.05,303.60) scale(0.88,1)" font-size="9.5" fill="#454510" text-anchor="middle" >35</text>
<rect x="577.80" y="279.50" width="35.50" height="32.20" fill="#FFF799" stroke="rgba(0,0,0,0.45)" stroke-width="1.1"/>
<text transform="translate(595.55,293.90) scale(0.88,1)" font-size="9.5" fill="#454510" text-anchor="middle" >2+1</text>
<text transform="translate(595.55,303.60) scale(0.88,1)" font-size="9.5" fill="#454510" text-anchor="middle" >33</text>
<line x1="613.30" y1="233.90" x2="656.60" y2="233.90" stroke="#999" stroke-width="1.1"/>
<line x1="613.30" y1="311.70" x2="656.60" y2="311.70" stroke="#999" stroke-width="1.1"/>
<rect x="601.90" y="225.30" width="22.50" height="8.60" fill="#fff" stroke="#777" stroke-width="0.8"/>
<line x1="606.40" y1="225.30" x2="606.40" y2="233.90" stroke="#777" stroke-width="0.8"/>
<line x1="610.90" y1="225.30" x2="610.90" y2="233.90" stroke="#777" stroke-width="0.8"/>
<line x1="615.40" y1="225.30" x2="615.40" y2="233.90" stroke="#777" stroke-width="0.8"/>
<line x1="619.90" y1="225.30" x2="619.90" y2="233.90" stroke="#777" stroke-width="0.8"/>
<rect x="613.70" y="233.90" width="8.10" height="21.50" fill="#fff" stroke="#777" stroke-width="0.8"/>
<line x1="613.70" y1="238.20" x2="621.80" y2="238.20" stroke="#777" stroke-width="0.8"/>
<line x1="613.70" y1="242.50" x2="621.80" y2="242.50" stroke="#777" stroke-width="0.8"/>
<line x1="613.70" y1="246.80" x2="621.80" y2="246.80" stroke="#777" stroke-width="0.8"/>
<line x1="613.70" y1="251.10" x2="621.80" y2="251.10" stroke="#777" stroke-width="0.8"/>
<rect x="613.70" y="290.00" width="8.10" height="21.60" fill="#fff" stroke="#777" stroke-width="0.8"/>
<line x1="613.70" y1="294.32" x2="621.80" y2="294.32" stroke="#777" stroke-width="0.8"/>
<line x1="613.70" y1="298.64" x2="621.80" y2="298.64" stroke="#777" stroke-width="0.8"/>
<line x1="613.70" y1="302.96" x2="621.80" y2="302.96" stroke="#777" stroke-width="0.8"/>
<line x1="613.70" y1="307.28" x2="621.80" y2="307.28" stroke="#777" stroke-width="0.8"/>
<rect x="601.90" y="311.70" width="22.50" height="8.50" fill="#fff" stroke="#777" stroke-width="0.8"/>
<line x1="606.40" y1="311.70" x2="606.40" y2="320.20" stroke="#777" stroke-width="0.8"/>
<line x1="610.90" y1="311.70" x2="610.90" y2="320.20" stroke="#777" stroke-width="0.8"/>
<line x1="615.40" y1="311.70" x2="615.40" y2="320.20" stroke="#777" stroke-width="0.8"/>
<line x1="619.90" y1="311.70" x2="619.90" y2="320.20" stroke="#777" stroke-width="0.8"/>
<rect x="656.60" y="233.90" width="17.87" height="32.60" fill="#F5821F" stroke="rgba(0,0,0,0.45)" stroke-width="1.1"/>
<text transform="translate(665.53,248.30) scale(0.88,1)" font-size="9.5" fill="#5a1a00" text-anchor="middle" >2</text>
<text transform="translate(665.53,258.00) scale(0.88,1)" font-size="9.5" fill="#5a1a00" text-anchor="middle" >30</text>
<rect x="674.47" y="233.90" width="17.87" height="32.60" fill="#F5821F" stroke="rgba(0,0,0,0.45)" stroke-width="1.1"/>
<text transform="translate(683.40,248.30) scale(0.88,1)" font-size="9.5" fill="#5a1a00" text-anchor="middle" >2</text>
<text transform="translate(683.40,258.00) scale(0.88,1)" font-size="9.5" fill="#5a1a00" text-anchor="middle" >28</text>
<rect x="692.34" y="233.90" width="17.87" height="32.60" fill="#F5821F" stroke="rgba(0,0,0,0.45)" stroke-width="1.1"/>
<text transform="translate(701.27,248.30) scale(0.88,1)" font-size="9.5" fill="#5a1a00" text-anchor="middle" >2</text>
<text transform="translate(701.27,258.00) scale(0.88,1)" font-size="9.5" fill="#5a1a00" text-anchor="middle" >26</text>
<rect x="710.21" y="233.90" width="17.87" height="32.60" fill="#F5821F" stroke="rgba(0,0,0,0.45)" stroke-width="1.1"/>
<text transform="translate(719.14,248.30) scale(0.88,1)" font-size="9.5" fill="#5a1a00" text-anchor="middle" >2</text>
<text transform="translate(719.14,258.00) scale(0.88,1)" font-size="9.5" fill="#5a1a00" text-anchor="middle" >24</text>
<rect x="728.08" y="233.90" width="17.87" height="32.60" fill="#F5821F" stroke="rgba(0,0,0,0.45)" stroke-width="1.1"/>
<text transform="translate(737.01,248.30) scale(0.88,1)" font-size="9.5" fill="#5a1a00" text-anchor="middle" >2</text>
<text transform="translate(737.01,258.00) scale(0.88,1)" font-size="9.5" fill="#5a1a00" text-anchor="middle" >22</text>
<rect x="745.95" y="233.90" width="17.87" height="32.60" fill="#F5821F" stroke="rgba(0,0,0,0.45)" stroke-width="1.1"/>
<text transform="translate(754.88,248.30) scale(0.88,1)" font-size="9.5" fill="#5a1a00" text-anchor="middle" >1</text>
<text transform="translate(754.88,258.00) scale(0.88,1)" font-size="9.5" fill="#5a1a00" text-anchor="middle" >20</text>
<rect x="656.60" y="279.50" width="35.80" height="32.20" fill="#fff" stroke="#999" stroke-width="1.1"/>
<rect x="692.40" y="279.50" width="17.63" height="32.20" fill="#F5A9CF" stroke="rgba(0,0,0,0.45)" stroke-width="1.1"/>
<text transform="translate(701.22,293.90) scale(0.88,1)" font-size="9.5" fill="#502040" text-anchor="middle" >2</text>
<text transform="translate(701.22,303.60) scale(0.88,1)" font-size="9.5" fill="#502040" text-anchor="middle" >27</text>
<rect x="710.03" y="279.50" width="17.63" height="32.20" fill="#F5A9CF" stroke="rgba(0,0,0,0.45)" stroke-width="1.1"/>
<text transform="translate(718.85,293.90) scale(0.88,1)" font-size="9.5" fill="#502040" text-anchor="middle" >2</text>
<text transform="translate(718.85,303.60) scale(0.88,1)" font-size="9.5" fill="#502040" text-anchor="middle" >25</text>
<rect x="727.66" y="279.50" width="17.63" height="32.20" fill="#F5A9CF" stroke="rgba(0,0,0,0.45)" stroke-width="1.1"/>
<text transform="translate(736.48,293.90) scale(0.88,1)" font-size="9.5" fill="#502040" text-anchor="middle" >2</text>
<text transform="translate(736.48,303.60) scale(0.88,1)" font-size="9.5" fill="#502040" text-anchor="middle" >23</text>
<rect x="745.30" y="279.50" width="18.50" height="32.20" fill="#F5821F" stroke="rgba(0,0,0,0.45)" stroke-width="1.1"/>
<text transform="translate(754.55,293.90) scale(0.88,1)" font-size="9.5" fill="#5a1a00" text-anchor="middle" >1</text>
<text transform="translate(754.55,303.60) scale(0.88,1)" font-size="9.5" fill="#5a1a00" text-anchor="middle" >21</text>
<path d="M763.8,233.8 L780,233.8 A35,39.2 0 0 1 780,312.2 L763.8,312.2" fill="none" stroke="#888" stroke-width="0.9"/>
<line x1="763.80" y1="266.50" x2="763.80" y2="279.50" stroke="#bbb" stroke-width="1.1"/>
<text transform="translate(775.10,271.10) scale(0.925,1)" font-size="10" fill="#2a2a2a" >Салон</text>
<text transform="translate(772.90,280.40) scale(0.974,1)" font-size="10" fill="#2a2a2a" >отдыха</text>
<path d="M121,369.7 L700.4,369.7 C796.6,369.7 843.8,405.0 880.8,432.15 C843.8,459.3 796.6,494.6 700.4,494.6 L121,494.6 A67.7,62.45000000000002 0 0 1 121,369.7 Z" fill="#fff" stroke="#1e1c1c" stroke-width="1.7"/>
<path d="M121.1,380.4 L118.3,380.4 A49.3,51.7 0 0 0 118.3,483.8 L121.1,483.8" fill="none" stroke="#888" stroke-width="0.9"/>
<line x1="121.10" y1="380.40" x2="366.40" y2="380.40" stroke="#999" stroke-width="1.1"/>
<line x1="121.10" y1="483.80" x2="366.40" y2="483.80" stroke="#999" stroke-width="1.1"/>
<line x1="121.10" y1="380.40" x2="121.10" y2="483.80" stroke="#858585" stroke-width="1.5"/>
<polyline points="121.10,421.60 201.40,421.60 201.40,380.40" fill="none" stroke="#999" stroke-width="1.1"/>
<rect x="201.40" y="380.40" width="18.90" height="31.10" fill="#DEDEDE" stroke="#888" stroke-width="1.1"/>
<text x="0" y="0" font-size="8.6" fill="#333" text-anchor="middle" transform="translate(214.2,396) rotate(-90)">Сауна</text>
<polyline points="121.10,442.00 201.40,442.00 201.40,452.30 220.30,452.30 220.30,483.80" fill="none" stroke="#999" stroke-width="1.1"/>
<line x1="237.90" y1="418.40" x2="237.90" y2="445.60" stroke="#999" stroke-width="1.1"/>
<line x1="237.90" y1="459.80" x2="237.90" y2="483.80" stroke="#999" stroke-width="1.1"/>
<rect x="259.70" y="380.40" width="89.70" height="31.10" fill="#fff" stroke="#999" stroke-width="1.1"/>
<rect x="312.30" y="380.40" width="21.40" height="31.10" fill="#DEDEDE" stroke="#999" stroke-width="1.1"/>
<path d="M320.7,387 h5.4 v5.9 h5.6 v5.7 h-5.6 v5.9 h-5.4 v-5.9 h-5.9 v-5.7 h5.9 Z" fill="#F01820"/>
<rect x="238.20" y="418.40" width="111.20" height="26.80" fill="#fff" stroke="#999" stroke-width="1.1"/>
<polyline points="238.20,483.80 238.20,459.80 259.70,459.80 259.70,452.30 349.40,452.30 349.40,483.80" fill="none" stroke="#999" stroke-width="1.1"/>
<rect x="366.50" y="380.40" width="17.86" height="32.00" fill="#14A088" stroke="rgba(0,0,0,0.45)" stroke-width="1.1"/>
<text transform="translate(375.43,394.90) scale(0.88,1)" font-size="9.5" fill="#063a30" text-anchor="middle" >2</text>
<text transform="translate(375.43,404.50) scale(0.88,1)" font-size="9.5" fill="#063a30" text-anchor="middle" >102</text>
<rect x="384.36" y="380.40" width="17.86" height="32.00" fill="#14A088" stroke="rgba(0,0,0,0.45)" stroke-width="1.1"/>
<text transform="translate(393.29,394.90) scale(0.88,1)" font-size="9.5" fill="#063a30" text-anchor="middle" >2</text>
<text transform="translate(393.29,404.50) scale(0.88,1)" font-size="9.5" fill="#063a30" text-anchor="middle" >100</text>
<rect x="402.22" y="380.40" width="17.86" height="32.00" fill="#14A088" stroke="rgba(0,0,0,0.45)" stroke-width="1.1"/>
<text transform="translate(411.15,394.90) scale(0.88,1)" font-size="9.5" fill="#063a30" text-anchor="middle" >2</text>
<text transform="translate(411.15,404.50) scale(0.88,1)" font-size="9.5" fill="#063a30" text-anchor="middle" >98</text>
<rect x="420.08" y="380.40" width="17.86" height="32.00" fill="#14A088" stroke="rgba(0,0,0,0.45)" stroke-width="1.1"/>
<text transform="translate(429.01,394.90) scale(0.88,1)" font-size="9.5" fill="#063a30" text-anchor="middle" >2</text>
<text transform="translate(429.01,404.50) scale(0.88,1)" font-size="9.5" fill="#063a30" text-anchor="middle" >96</text>
<rect x="437.94" y="380.40" width="17.86" height="32.00" fill="#14A088" stroke="rgba(0,0,0,0.45)" stroke-width="1.1"/>
<text transform="translate(446.87,394.90) scale(0.88,1)" font-size="9.5" fill="#063a30" text-anchor="middle" >2</text>
<text transform="translate(446.87,404.50) scale(0.88,1)" font-size="9.5" fill="#063a30" text-anchor="middle" >94</text>
<rect x="455.80" y="380.40" width="17.86" height="32.00" fill="#14A088" stroke="rgba(0,0,0,0.45)" stroke-width="1.1"/>
<text transform="translate(464.73,394.90) scale(0.88,1)" font-size="9.5" fill="#063a30" text-anchor="middle" >2</text>
<text transform="translate(464.73,404.50) scale(0.88,1)" font-size="9.5" fill="#063a30" text-anchor="middle" >92</text>
<rect x="473.66" y="380.40" width="17.86" height="32.00" fill="#14A088" stroke="rgba(0,0,0,0.45)" stroke-width="1.1"/>
<text transform="translate(482.59,394.90) scale(0.88,1)" font-size="9.5" fill="#063a30" text-anchor="middle" >2</text>
<text transform="translate(482.59,404.50) scale(0.88,1)" font-size="9.5" fill="#063a30" text-anchor="middle" >90</text>
<rect x="491.52" y="380.40" width="17.86" height="32.00" fill="#14A088" stroke="rgba(0,0,0,0.45)" stroke-width="1.1"/>
<text transform="translate(500.45,394.90) scale(0.88,1)" font-size="9.5" fill="#063a30" text-anchor="middle" >2</text>
<text transform="translate(500.45,404.50) scale(0.88,1)" font-size="9.5" fill="#063a30" text-anchor="middle" >88</text>
<rect x="509.60" y="380.40" width="17.75" height="32.00" fill="#FDC30F" stroke="rgba(0,0,0,0.45)" stroke-width="1.1"/>
<text transform="translate(518.48,394.90) scale(0.88,1)" font-size="9.5" fill="#553300" text-anchor="middle" >4</text>
<text transform="translate(518.48,404.50) scale(0.88,1)" font-size="9.5" fill="#553300" text-anchor="middle" >86</text>
<rect x="527.35" y="380.40" width="17.75" height="32.00" fill="#FDC30F" stroke="rgba(0,0,0,0.45)" stroke-width="1.1"/>
<text transform="translate(536.23,394.90) scale(0.88,1)" font-size="9.5" fill="#553300" text-anchor="middle" >4</text>
<text transform="translate(536.23,404.50) scale(0.88,1)" font-size="9.5" fill="#553300" text-anchor="middle" >84</text>
<rect x="545.10" y="380.40" width="17.60" height="32.00" fill="#E2E2E6" stroke="rgba(0,0,0,0.45)" stroke-width="1.1"/>
<text transform="translate(553.90,394.90) scale(0.88,1)" font-size="9.5" fill="#2a2a35" text-anchor="middle" >2</text>
<text transform="translate(553.90,404.50) scale(0.88,1)" font-size="9.5" fill="#2a2a35" text-anchor="middle" >К-4</text>
<rect x="562.70" y="380.40" width="17.80" height="32.00" fill="#FDC30F" stroke="rgba(0,0,0,0.45)" stroke-width="1.1"/>
<text transform="translate(571.60,394.90) scale(0.88,1)" font-size="9.5" fill="#553300" text-anchor="middle" >4</text>
<text transform="translate(571.60,404.50) scale(0.88,1)" font-size="9.5" fill="#553300" text-anchor="middle" >82</text>
<rect x="580.50" y="380.40" width="17.80" height="32.00" fill="#FDC30F" stroke="rgba(0,0,0,0.45)" stroke-width="1.1"/>
<text transform="translate(589.40,394.90) scale(0.88,1)" font-size="9.5" fill="#553300" text-anchor="middle" >4</text>
<text transform="translate(589.40,404.50) scale(0.88,1)" font-size="9.5" fill="#553300" text-anchor="middle" >80</text>
<rect x="366.50" y="451.40" width="35.30" height="32.30" fill="#1C9BD7" stroke="rgba(0,0,0,0.45)" stroke-width="1.1"/>
<text transform="translate(384.15,465.90) scale(0.88,1)" font-size="9.5" fill="#0a2848" text-anchor="middle" >2</text>
<text transform="translate(384.15,475.50) scale(0.88,1)" font-size="9.5" fill="#0a2848" text-anchor="middle" >101</text>
<rect x="401.80" y="451.40" width="17.93" height="32.30" fill="#14A088" stroke="rgba(0,0,0,0.45)" stroke-width="1.1"/>
<text transform="translate(410.76,465.90) scale(0.88,1)" font-size="9.5" fill="#063a30" text-anchor="middle" >2</text>
<text transform="translate(410.76,475.50) scale(0.88,1)" font-size="9.5" fill="#063a30" text-anchor="middle" >99</text>
<rect x="419.73" y="451.40" width="17.93" height="32.30" fill="#14A088" stroke="rgba(0,0,0,0.45)" stroke-width="1.1"/>
<text transform="translate(428.69,465.90) scale(0.88,1)" font-size="9.5" fill="#063a30" text-anchor="middle" >2</text>
<text transform="translate(428.69,475.50) scale(0.88,1)" font-size="9.5" fill="#063a30" text-anchor="middle" >97</text>
<rect x="437.66" y="451.40" width="17.93" height="32.30" fill="#14A088" stroke="rgba(0,0,0,0.45)" stroke-width="1.1"/>
<text transform="translate(446.62,465.90) scale(0.88,1)" font-size="9.5" fill="#063a30" text-anchor="middle" >2</text>
<text transform="translate(446.62,475.50) scale(0.88,1)" font-size="9.5" fill="#063a30" text-anchor="middle" >95</text>
<rect x="455.59" y="451.40" width="17.93" height="32.30" fill="#14A088" stroke="rgba(0,0,0,0.45)" stroke-width="1.1"/>
<text transform="translate(464.56,465.90) scale(0.88,1)" font-size="9.5" fill="#063a30" text-anchor="middle" >2</text>
<text transform="translate(464.56,475.50) scale(0.88,1)" font-size="9.5" fill="#063a30" text-anchor="middle" >93</text>
<rect x="473.52" y="451.40" width="17.93" height="32.30" fill="#14A088" stroke="rgba(0,0,0,0.45)" stroke-width="1.1"/>
<text transform="translate(482.48,465.90) scale(0.88,1)" font-size="9.5" fill="#063a30" text-anchor="middle" >2</text>
<text transform="translate(482.48,475.50) scale(0.88,1)" font-size="9.5" fill="#063a30" text-anchor="middle" >91</text>
<rect x="491.45" y="451.40" width="17.93" height="32.30" fill="#14A088" stroke="rgba(0,0,0,0.45)" stroke-width="1.1"/>
<text transform="translate(500.42,465.90) scale(0.88,1)" font-size="9.5" fill="#063a30" text-anchor="middle" >2</text>
<text transform="translate(500.42,475.50) scale(0.88,1)" font-size="9.5" fill="#063a30" text-anchor="middle" >89</text>
<rect x="509.60" y="451.40" width="17.75" height="32.30" fill="#FDC30F" stroke="rgba(0,0,0,0.45)" stroke-width="1.1"/>
<text transform="translate(518.48,465.90) scale(0.88,1)" font-size="9.5" fill="#553300" text-anchor="middle" >4</text>
<text transform="translate(518.48,475.50) scale(0.88,1)" font-size="9.5" fill="#553300" text-anchor="middle" >87</text>
<rect x="527.35" y="451.40" width="17.75" height="32.30" fill="#FDC30F" stroke="rgba(0,0,0,0.45)" stroke-width="1.1"/>
<text transform="translate(536.23,465.90) scale(0.88,1)" font-size="9.5" fill="#553300" text-anchor="middle" >4</text>
<text transform="translate(536.23,475.50) scale(0.88,1)" font-size="9.5" fill="#553300" text-anchor="middle" >85</text>
<rect x="545.10" y="451.40" width="17.60" height="32.30" fill="#E2E2E6" stroke="rgba(0,0,0,0.45)" stroke-width="1.1"/>
<text transform="translate(553.90,465.90) scale(0.88,1)" font-size="9.5" fill="#2a2a35" text-anchor="middle" >2</text>
<text transform="translate(553.90,475.50) scale(0.88,1)" font-size="9.5" fill="#2a2a35" text-anchor="middle" >К-5</text>
<rect x="562.70" y="451.40" width="17.80" height="32.30" fill="#FDC30F" stroke="rgba(0,0,0,0.45)" stroke-width="1.1"/>
<text transform="translate(571.60,465.90) scale(0.88,1)" font-size="9.5" fill="#553300" text-anchor="middle" >4</text>
<text transform="translate(571.60,475.50) scale(0.88,1)" font-size="9.5" fill="#553300" text-anchor="middle" >83</text>
<rect x="580.50" y="451.40" width="17.80" height="32.30" fill="#FDC30F" stroke="rgba(0,0,0,0.45)" stroke-width="1.1"/>
<text transform="translate(589.40,465.90) scale(0.88,1)" font-size="9.5" fill="#553300" text-anchor="middle" >4</text>
<text transform="translate(589.40,475.50) scale(0.88,1)" font-size="9.5" fill="#553300" text-anchor="middle" >81</text>
<rect x="365.60" y="420.30" width="232.00" height="23.10" fill="#fff" stroke="#999" stroke-width="1.1"/>
<rect x="579.40" y="420.30" width="18.20" height="23.10" fill="#fff" stroke="#999" stroke-width="1.1"/>
<line x1="369.50" y1="427.50" x2="369.50" y2="435.50" stroke="#777" stroke-width="0.9"/>
<line x1="372.60" y1="427.50" x2="372.60" y2="435.50" stroke="#777" stroke-width="0.9"/>
<line x1="375.70" y1="427.50" x2="375.70" y2="435.50" stroke="#777" stroke-width="0.9"/>
<line x1="365.60" y1="427.50" x2="378.20" y2="427.50" stroke="#999" stroke-width="0.6"/>
<line x1="365.60" y1="435.50" x2="378.20" y2="435.50" stroke="#999" stroke-width="0.6"/>
<rect x="378.20" y="420.30" width="26.10" height="11.10" fill="#DEDEDE" stroke="#888" stroke-width="1.1"/>
<rect x="378.20" y="431.40" width="26.10" height="12.00" fill="#DEDEDE" stroke="#888" stroke-width="1.1"/>
<rect x="404.30" y="420.30" width="24.10" height="23.10" fill="#DEDEDE" stroke="#888" stroke-width="1.1"/>
<rect x="428.40" y="420.30" width="21.40" height="11.10" fill="#DEDEDE" stroke="#888" stroke-width="1.1"/>
<rect x="428.40" y="431.40" width="21.40" height="12.00" fill="#DEDEDE" stroke="#888" stroke-width="1.1"/>
<rect x="449.80" y="420.30" width="20.90" height="11.10" fill="#DEDEDE" stroke="#888" stroke-width="1.1"/>
<rect x="449.80" y="431.40" width="20.90" height="12.00" fill="#DEDEDE" stroke="#888" stroke-width="1.1"/>
<g fill="#1e1e1e"><circle cx="383.50" cy="426.10" r="1.6"/><rect x="385.00" y="423.00" width="7.8" height="6.2" rx="1.1"/><rect x="392.40" y="424.20" width="6.8" height="3.8" rx="0.6"/></g>
<g fill="#1e1e1e"><circle cx="383.50" cy="437.30" r="1.6"/><path d="M385.00,434.70 L393.20,433.60 L393.20,441.00 L385.00,439.90 Z"/><rect x="393.00" y="435.40" width="6.2" height="3.8" rx="0.6"/></g>
<rect x="412" y="423.2" width="5" height="16.8" rx="1" fill="none" stroke="#aaa" stroke-width="0.6"/><rect x="412.8" y="424.8" width="3.3" height="14.3" rx="1.2" fill="#1a1a1a"/><path d="M417.8,440 L417.8,433 L420.5,430.5 L421,440 Z" fill="none" stroke="#aaa" stroke-width="0.6"/>
<g transform="translate(439.10,422.20) scale(1.25)" fill="#1e1e1e"><path d="M-2.5,3.6 C-2.4,2 -1.3,1.3 -0.6,0.7 L0,0 L0.6,0.7 C1.3,1.3 2.4,2 2.5,3.6 Z"/><rect x="-1.8" y="4.6" width="3.6" height="0.9" fill="#999"/></g>
<g transform="translate(439.10,433.60) scale(1.25)" fill="#1e1e1e"><path d="M-2.5,3.6 C-2.4,2 -1.3,1.3 -0.6,0.7 L0,0 L0.6,0.7 C1.3,1.3 2.4,2 2.5,3.6 Z"/><rect x="-1.8" y="4.6" width="3.6" height="0.9" fill="#999"/></g>
<g transform="translate(460.20,422.20) scale(1.25)" fill="#1e1e1e"><path d="M-2.5,3.6 C-2.4,2 -1.3,1.3 -0.6,0.7 L0,0 L0.6,0.7 C1.3,1.3 2.4,2 2.5,3.6 Z"/><rect x="-1.8" y="4.6" width="3.6" height="0.9" fill="#999"/></g>
<g transform="translate(460.20,433.60) scale(1.25)" fill="#1e1e1e"><path d="M-2.5,3.6 C-2.4,2 -1.3,1.3 -0.6,0.7 L0,0 L0.6,0.7 C1.3,1.3 2.4,2 2.5,3.6 Z"/><rect x="-1.8" y="4.6" width="3.6" height="0.9" fill="#999"/></g>
<text transform="translate(604.70,435.50) scale(0.943,1)" font-size="10.2" fill="#222" >Рецепция</text>
<rect x="616.00" y="371.20" width="21.20" height="9.20" fill="#fff" stroke="#777" stroke-width="0.8"/>
<line x1="620.24" y1="371.20" x2="620.24" y2="380.40" stroke="#777" stroke-width="0.8"/>
<line x1="624.48" y1="371.20" x2="624.48" y2="380.40" stroke="#777" stroke-width="0.8"/>
<line x1="628.72" y1="371.20" x2="628.72" y2="380.40" stroke="#777" stroke-width="0.8"/>
<line x1="632.96" y1="371.20" x2="632.96" y2="380.40" stroke="#777" stroke-width="0.8"/>
<rect x="616.00" y="412.40" width="21.20" height="8.80" fill="#fff" stroke="#777" stroke-width="0.8"/>
<line x1="620.24" y1="412.40" x2="620.24" y2="421.20" stroke="#777" stroke-width="0.8"/>
<line x1="624.48" y1="412.40" x2="624.48" y2="421.20" stroke="#777" stroke-width="0.8"/>
<line x1="628.72" y1="412.40" x2="628.72" y2="421.20" stroke="#777" stroke-width="0.8"/>
<line x1="632.96" y1="412.40" x2="632.96" y2="421.20" stroke="#777" stroke-width="0.8"/>
<rect x="616.00" y="443.20" width="21.20" height="7.80" fill="#fff" stroke="#777" stroke-width="0.8"/>
<line x1="620.24" y1="443.20" x2="620.24" y2="451.00" stroke="#777" stroke-width="0.8"/>
<line x1="624.48" y1="443.20" x2="624.48" y2="451.00" stroke="#777" stroke-width="0.8"/>
<line x1="628.72" y1="443.20" x2="628.72" y2="451.00" stroke="#777" stroke-width="0.8"/>
<line x1="632.96" y1="443.20" x2="632.96" y2="451.00" stroke="#777" stroke-width="0.8"/>
<rect x="616.00" y="484.00" width="21.20" height="9.00" fill="#fff" stroke="#777" stroke-width="0.8"/>
<line x1="620.24" y1="484.00" x2="620.24" y2="493.00" stroke="#777" stroke-width="0.8"/>
<line x1="624.48" y1="484.00" x2="624.48" y2="493.00" stroke="#777" stroke-width="0.8"/>
<line x1="628.72" y1="484.00" x2="628.72" y2="493.00" stroke="#777" stroke-width="0.8"/>
<line x1="632.96" y1="484.00" x2="632.96" y2="493.00" stroke="#777" stroke-width="0.8"/>
<rect x="616.00" y="380.40" width="18.30" height="32.00" fill="#fff" stroke="#999" stroke-width="1.1"/>
<path d="M634.3,380.4 L666.3,380.4 L677.2,383.4 L677.2,412.3 L634.3,412.3 Z" fill="#DEDEDE" stroke="#999" stroke-width="0.9"/>
<line x1="598.30" y1="380.40" x2="616.00" y2="380.40" stroke="#999" stroke-width="1.1"/>
<line x1="598.30" y1="483.80" x2="616.00" y2="483.80" stroke="#999" stroke-width="1.1"/>
<line x1="677.20" y1="369.70" x2="677.20" y2="412.30" stroke="#999" stroke-width="1.1"/>
<text transform="translate(655.50,396.30) scale(0.92,1)" font-size="9" fill="#222" text-anchor="middle" >Детская</text>
<text transform="translate(655.50,404.60) scale(0.92,1)" font-size="9" fill="#222" text-anchor="middle" >комната</text>
<polyline points="616.00,483.80 616.00,450.80 742.90,450.80 742.90,440.50 764.30,440.50" fill="none" stroke="#999" stroke-width="1.1"/>
<polyline points="616.00,483.80 665.50,483.80 677.20,480.20" fill="none" stroke="#999" stroke-width="1.1"/>
<line x1="677.20" y1="480.00" x2="677.20" y2="494.60" stroke="#999" stroke-width="1.1"/>
<text transform="translate(636.90,469.80) scale(0.957,1)" font-size="10" fill="#222" >Камбуз</text>
<line x1="718.00" y1="369.70" x2="718.00" y2="412.20" stroke="#999" stroke-width="1.1"/>
<polyline points="677.60,412.20 742.90,412.20 742.90,422.50 764.30,422.50" fill="none" stroke="#999" stroke-width="1.1"/>
<line x1="764.30" y1="375.50" x2="764.30" y2="488.80" stroke="#888" stroke-width="1.1"/>
<text transform="translate(788.70,430.60) scale(0.995,1)" font-size="9.8" fill="#222" >Салон питания</text>
<text transform="translate(810.90,439.60) scale(1.036,1)" font-size="9.8" fill="#222" >/ Бар</text>
<path d="M121,530.9 L700.4,530.9 C796.6,530.9 843.8,566.1999999999999 880.5,593.0999999999999 C843.8,620.0 796.6,655.3 700.4,655.3 L121,655.3 A67.5,62.19999999999999 0 0 1 121,530.9 Z" fill="#fff" stroke="#1e1c1c" stroke-width="1.7"/>
<polyline points="128.20,530.90 128.20,573.50 156.10,573.50 156.10,582.50 224.60,582.50 224.60,573.50 252.30,573.50 252.30,530.90" fill="none" stroke="#999" stroke-width="1.1"/>
<polyline points="128.20,655.30 128.20,611.80 156.10,611.80 156.10,603.40 224.60,603.40 224.60,611.80 252.30,611.80 252.30,655.30" fill="none" stroke="#999" stroke-width="1.1"/>
<line x1="377.40" y1="530.90" x2="377.40" y2="655.30" stroke="#999" stroke-width="1.1"/>
<line x1="377.40" y1="563.50" x2="643.90" y2="563.50" stroke="#999" stroke-width="1.1"/>
<line x1="377.40" y1="622.40" x2="643.90" y2="622.40" stroke="#999" stroke-width="1.1"/>
<rect x="354.80" y="589.10" width="22.60" height="8.20" fill="#fff" stroke="#777" stroke-width="0.8"/>
<line x1="360.45" y1="589.10" x2="360.45" y2="597.30" stroke="#777" stroke-width="0.8"/>
<line x1="366.10" y1="589.10" x2="366.10" y2="597.30" stroke="#777" stroke-width="0.8"/>
<line x1="371.75" y1="589.10" x2="371.75" y2="597.30" stroke="#777" stroke-width="0.8"/>
<rect x="394.60" y="530.90" width="17.80" height="32.60" fill="#92D168" stroke="rgba(0,0,0,0.45)" stroke-width="1.1"/>
<text transform="translate(403.50,545.30) scale(0.88,1)" font-size="9.5" fill="#1e4a10" text-anchor="middle" >2</text>
<text transform="translate(403.50,555.00) scale(0.88,1)" font-size="9.5" fill="#1e4a10" text-anchor="middle" >146</text>
<rect x="412.40" y="530.90" width="17.80" height="32.60" fill="#92D168" stroke="rgba(0,0,0,0.45)" stroke-width="1.1"/>
<text transform="translate(421.30,545.30) scale(0.88,1)" font-size="9.5" fill="#1e4a10" text-anchor="middle" >2</text>
<text transform="translate(421.30,555.00) scale(0.88,1)" font-size="9.5" fill="#1e4a10" text-anchor="middle" >144</text>
<rect x="430.20" y="530.90" width="17.80" height="32.60" fill="#92D168" stroke="rgba(0,0,0,0.45)" stroke-width="1.1"/>
<text transform="translate(439.10,545.30) scale(0.88,1)" font-size="9.5" fill="#1e4a10" text-anchor="middle" >2</text>
<text transform="translate(439.10,555.00) scale(0.88,1)" font-size="9.5" fill="#1e4a10" text-anchor="middle" >142</text>
<rect x="448.00" y="530.90" width="17.80" height="32.60" fill="#92D168" stroke="rgba(0,0,0,0.45)" stroke-width="1.1"/>
<text transform="translate(456.90,545.30) scale(0.88,1)" font-size="9.5" fill="#1e4a10" text-anchor="middle" >2</text>
<text transform="translate(456.90,555.00) scale(0.88,1)" font-size="9.5" fill="#1e4a10" text-anchor="middle" >140</text>
<rect x="465.80" y="530.90" width="17.80" height="32.60" fill="#92D168" stroke="rgba(0,0,0,0.45)" stroke-width="1.1"/>
<text transform="translate(474.70,545.30) scale(0.88,1)" font-size="9.5" fill="#1e4a10" text-anchor="middle" >2</text>
<text transform="translate(474.70,555.00) scale(0.88,1)" font-size="9.5" fill="#1e4a10" text-anchor="middle" >138</text>
<rect x="483.60" y="530.90" width="17.80" height="32.60" fill="#92D168" stroke="rgba(0,0,0,0.45)" stroke-width="1.1"/>
<text transform="translate(492.50,545.30) scale(0.88,1)" font-size="9.5" fill="#1e4a10" text-anchor="middle" >2</text>
<text transform="translate(492.50,555.00) scale(0.88,1)" font-size="9.5" fill="#1e4a10" text-anchor="middle" >136</text>
<rect x="501.40" y="530.90" width="17.80" height="32.60" fill="#92D168" stroke="rgba(0,0,0,0.45)" stroke-width="1.1"/>
<text transform="translate(510.30,545.30) scale(0.88,1)" font-size="9.5" fill="#1e4a10" text-anchor="middle" >2</text>
<text transform="translate(510.30,555.00) scale(0.88,1)" font-size="9.5" fill="#1e4a10" text-anchor="middle" >134</text>
<rect x="519.20" y="530.90" width="17.80" height="32.60" fill="#92D168" stroke="rgba(0,0,0,0.45)" stroke-width="1.1"/>
<text transform="translate(528.10,545.30) scale(0.88,1)" font-size="9.5" fill="#1e4a10" text-anchor="middle" >2</text>
<text transform="translate(528.10,555.00) scale(0.88,1)" font-size="9.5" fill="#1e4a10" text-anchor="middle" >132</text>
<rect x="537.00" y="530.90" width="17.80" height="32.60" fill="#92D168" stroke="rgba(0,0,0,0.45)" stroke-width="1.1"/>
<text transform="translate(545.90,545.30) scale(0.88,1)" font-size="9.5" fill="#1e4a10" text-anchor="middle" >2</text>
<text transform="translate(545.90,555.00) scale(0.88,1)" font-size="9.5" fill="#1e4a10" text-anchor="middle" >130</text>
<rect x="554.80" y="530.90" width="17.80" height="32.60" fill="#92D168" stroke="rgba(0,0,0,0.45)" stroke-width="1.1"/>
<text transform="translate(563.70,545.30) scale(0.88,1)" font-size="9.5" fill="#1e4a10" text-anchor="middle" >2</text>
<text transform="translate(563.70,555.00) scale(0.88,1)" font-size="9.5" fill="#1e4a10" text-anchor="middle" >128</text>
<rect x="572.60" y="530.90" width="17.80" height="32.60" fill="#92D168" stroke="rgba(0,0,0,0.45)" stroke-width="1.1"/>
<text transform="translate(581.50,545.30) scale(0.88,1)" font-size="9.5" fill="#1e4a10" text-anchor="middle" >2</text>
<text transform="translate(581.50,555.00) scale(0.88,1)" font-size="9.5" fill="#1e4a10" text-anchor="middle" >126</text>
<rect x="590.40" y="530.90" width="17.80" height="32.60" fill="#92D168" stroke="rgba(0,0,0,0.45)" stroke-width="1.1"/>
<text transform="translate(599.30,545.30) scale(0.88,1)" font-size="9.5" fill="#1e4a10" text-anchor="middle" >2</text>
<text transform="translate(599.30,555.00) scale(0.88,1)" font-size="9.5" fill="#1e4a10" text-anchor="middle" >124</text>
<rect x="608.20" y="530.90" width="17.80" height="32.60" fill="#92D168" stroke="rgba(0,0,0,0.45)" stroke-width="1.1"/>
<text transform="translate(617.10,545.30) scale(0.88,1)" font-size="9.5" fill="#1e4a10" text-anchor="middle" >2</text>
<text transform="translate(617.10,555.00) scale(0.88,1)" font-size="9.5" fill="#1e4a10" text-anchor="middle" >122</text>
<rect x="626.00" y="530.90" width="17.80" height="32.60" fill="#92D168" stroke="rgba(0,0,0,0.45)" stroke-width="1.1"/>
<text transform="translate(634.90,545.30) scale(0.88,1)" font-size="9.5" fill="#1e4a10" text-anchor="middle" >2</text>
<text transform="translate(634.90,555.00) scale(0.88,1)" font-size="9.5" fill="#1e4a10" text-anchor="middle" >120</text>
<rect x="394.60" y="622.40" width="17.80" height="32.40" fill="#92D168" stroke="rgba(0,0,0,0.45)" stroke-width="1.1"/>
<text transform="translate(403.50,636.80) scale(0.88,1)" font-size="9.5" fill="#1e4a10" text-anchor="middle" >2</text>
<text transform="translate(403.50,646.50) scale(0.88,1)" font-size="9.5" fill="#1e4a10" text-anchor="middle" >147</text>
<rect x="412.40" y="622.40" width="17.80" height="32.40" fill="#92D168" stroke="rgba(0,0,0,0.45)" stroke-width="1.1"/>
<text transform="translate(421.30,636.80) scale(0.88,1)" font-size="9.5" fill="#1e4a10" text-anchor="middle" >2</text>
<text transform="translate(421.30,646.50) scale(0.88,1)" font-size="9.5" fill="#1e4a10" text-anchor="middle" >145</text>
<rect x="430.20" y="622.40" width="17.80" height="32.40" fill="#92D168" stroke="rgba(0,0,0,0.45)" stroke-width="1.1"/>
<text transform="translate(439.10,636.80) scale(0.88,1)" font-size="9.5" fill="#1e4a10" text-anchor="middle" >2</text>
<text transform="translate(439.10,646.50) scale(0.88,1)" font-size="9.5" fill="#1e4a10" text-anchor="middle" >143</text>
<rect x="448.00" y="622.40" width="17.80" height="32.40" fill="#92D168" stroke="rgba(0,0,0,0.45)" stroke-width="1.1"/>
<text transform="translate(456.90,636.80) scale(0.88,1)" font-size="9.5" fill="#1e4a10" text-anchor="middle" >2</text>
<text transform="translate(456.90,646.50) scale(0.88,1)" font-size="9.5" fill="#1e4a10" text-anchor="middle" >141</text>
<rect x="465.80" y="622.40" width="17.80" height="32.40" fill="#92D168" stroke="rgba(0,0,0,0.45)" stroke-width="1.1"/>
<text transform="translate(474.70,636.80) scale(0.88,1)" font-size="9.5" fill="#1e4a10" text-anchor="middle" >2</text>
<text transform="translate(474.70,646.50) scale(0.88,1)" font-size="9.5" fill="#1e4a10" text-anchor="middle" >139</text>
<rect x="483.60" y="622.40" width="17.80" height="32.40" fill="#92D168" stroke="rgba(0,0,0,0.45)" stroke-width="1.1"/>
<text transform="translate(492.50,636.80) scale(0.88,1)" font-size="9.5" fill="#1e4a10" text-anchor="middle" >2</text>
<text transform="translate(492.50,646.50) scale(0.88,1)" font-size="9.5" fill="#1e4a10" text-anchor="middle" >137</text>
<rect x="501.40" y="622.40" width="17.80" height="32.40" fill="#92D168" stroke="rgba(0,0,0,0.45)" stroke-width="1.1"/>
<text transform="translate(510.30,636.80) scale(0.88,1)" font-size="9.5" fill="#1e4a10" text-anchor="middle" >2</text>
<text transform="translate(510.30,646.50) scale(0.88,1)" font-size="9.5" fill="#1e4a10" text-anchor="middle" >135</text>
<rect x="519.20" y="622.40" width="17.80" height="32.40" fill="#92D168" stroke="rgba(0,0,0,0.45)" stroke-width="1.1"/>
<text transform="translate(528.10,636.80) scale(0.88,1)" font-size="9.5" fill="#1e4a10" text-anchor="middle" >2</text>
<text transform="translate(528.10,646.50) scale(0.88,1)" font-size="9.5" fill="#1e4a10" text-anchor="middle" >133</text>
<rect x="537.00" y="622.40" width="17.80" height="32.40" fill="#92D168" stroke="rgba(0,0,0,0.45)" stroke-width="1.1"/>
<text transform="translate(545.90,636.80) scale(0.88,1)" font-size="9.5" fill="#1e4a10" text-anchor="middle" >2</text>
<text transform="translate(545.90,646.50) scale(0.88,1)" font-size="9.5" fill="#1e4a10" text-anchor="middle" >131</text>
<rect x="554.80" y="622.40" width="17.80" height="32.40" fill="#92D168" stroke="rgba(0,0,0,0.45)" stroke-width="1.1"/>
<text transform="translate(563.70,636.80) scale(0.88,1)" font-size="9.5" fill="#1e4a10" text-anchor="middle" >2</text>
<text transform="translate(563.70,646.50) scale(0.88,1)" font-size="9.5" fill="#1e4a10" text-anchor="middle" >129</text>
<rect x="572.60" y="622.40" width="17.80" height="32.40" fill="#92D168" stroke="rgba(0,0,0,0.45)" stroke-width="1.1"/>
<text transform="translate(581.50,636.80) scale(0.88,1)" font-size="9.5" fill="#1e4a10" text-anchor="middle" >2</text>
<text transform="translate(581.50,646.50) scale(0.88,1)" font-size="9.5" fill="#1e4a10" text-anchor="middle" >127</text>
<rect x="590.40" y="622.40" width="17.80" height="32.40" fill="#92D168" stroke="rgba(0,0,0,0.45)" stroke-width="1.1"/>
<text transform="translate(599.30,636.80) scale(0.88,1)" font-size="9.5" fill="#1e4a10" text-anchor="middle" >2</text>
<text transform="translate(599.30,646.50) scale(0.88,1)" font-size="9.5" fill="#1e4a10" text-anchor="middle" >125</text>
<rect x="608.20" y="622.40" width="17.80" height="32.40" fill="#92D168" stroke="rgba(0,0,0,0.45)" stroke-width="1.1"/>
<text transform="translate(617.10,636.80) scale(0.88,1)" font-size="9.5" fill="#1e4a10" text-anchor="middle" >2</text>
<text transform="translate(617.10,646.50) scale(0.88,1)" font-size="9.5" fill="#1e4a10" text-anchor="middle" >123</text>
<rect x="626.00" y="622.40" width="17.80" height="32.40" fill="#92D168" stroke="rgba(0,0,0,0.45)" stroke-width="1.1"/>
<text transform="translate(634.90,636.80) scale(0.88,1)" font-size="9.5" fill="#1e4a10" text-anchor="middle" >2</text>
<text transform="translate(634.90,646.50) scale(0.88,1)" font-size="9.5" fill="#1e4a10" text-anchor="middle" >121</text>
<rect x="393.30" y="578.30" width="210.60" height="29.10" fill="#fff" stroke="#999" stroke-width="1.1"/>
<rect x="412.60" y="578.30" width="17.80" height="14.50" fill="#DEDEDE" stroke="#999" stroke-width="1.1"/>
<rect x="412.60" y="592.80" width="17.80" height="14.60" fill="#DEDEDE" stroke="#999" stroke-width="1.1"/>
<g fill="#1e1e1e"><circle cx="414.20" cy="585.70" r="1.6"/><rect x="415.70" y="582.60" width="7.8" height="6.2" rx="1.1"/><rect x="423.10" y="583.80" width="6.8" height="3.8" rx="0.6"/></g>
<g fill="#1e1e1e"><circle cx="414.20" cy="600.40" r="1.6"/><path d="M415.70,597.80 L423.90,596.70 L423.90,604.10 L415.70,603.00 Z"/><rect x="423.70" y="598.50" width="6.2" height="3.8" rx="0.6"/></g>
<rect x="622.10" y="578.30" width="21.80" height="8.60" fill="#fff" stroke="#777" stroke-width="0.8"/>
<line x1="626.46" y1="578.30" x2="626.46" y2="586.90" stroke="#777" stroke-width="0.8"/>
<line x1="630.82" y1="578.30" x2="630.82" y2="586.90" stroke="#777" stroke-width="0.8"/>
<line x1="635.18" y1="578.30" x2="635.18" y2="586.90" stroke="#777" stroke-width="0.8"/>
<line x1="639.54" y1="578.30" x2="639.54" y2="586.90" stroke="#777" stroke-width="0.8"/>
<rect x="622.10" y="599.30" width="21.80" height="8.60" fill="#fff" stroke="#777" stroke-width="0.8"/>
<line x1="626.46" y1="599.30" x2="626.46" y2="607.90" stroke="#777" stroke-width="0.8"/>
<line x1="630.82" y1="599.30" x2="630.82" y2="607.90" stroke="#777" stroke-width="0.8"/>
<line x1="635.18" y1="599.30" x2="635.18" y2="607.90" stroke="#777" stroke-width="0.8"/>
<line x1="639.54" y1="599.30" x2="639.54" y2="607.90" stroke="#777" stroke-width="0.8"/>
<line x1="643.90" y1="530.90" x2="643.90" y2="655.30" stroke="#999" stroke-width="1.1"/>
<line x1="669.70" y1="530.90" x2="669.70" y2="655.30" stroke="#aaa" stroke-width="1.2"/>
<rect x="669.70" y="548.40" width="86.10" height="89.40" fill="#fff" stroke="#999" stroke-width="1.1"/>
<rect x="702.50" y="548.40" width="53.30" height="39.20" fill="#fff" stroke="#999" stroke-width="1.1"/>
<rect x="702.50" y="597.90" width="53.30" height="39.90" fill="#fff" stroke="#999" stroke-width="1.1"/>
<line x1="821.00" y1="553.60" x2="821.00" y2="632.20" stroke="#aaa" stroke-width="1.1"/>
</svg></body></html>
